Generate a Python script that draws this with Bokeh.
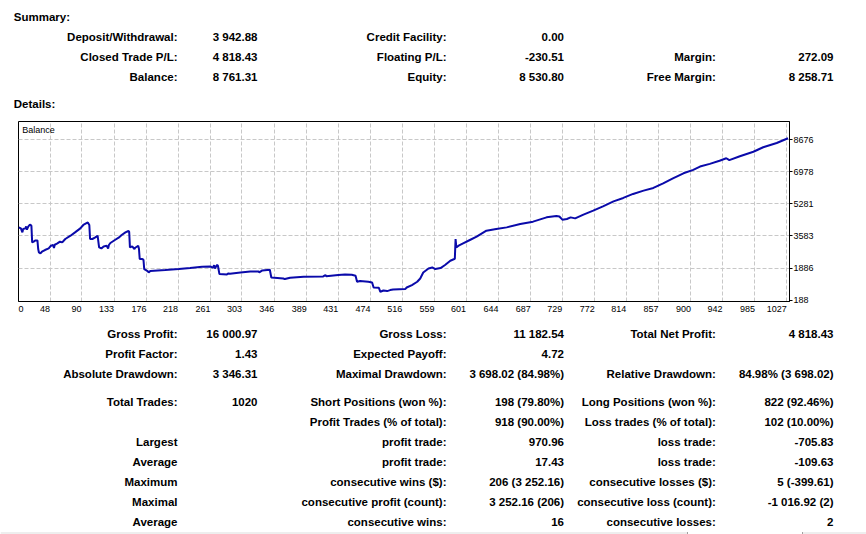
from bokeh.plotting import figure
from bokeh.models import Range1d, FixedTicker, ColumnDataSource
from bokeh.layouts import column
from bokeh.core.properties import value
from bokeh.embed import file_html
from bokeh.resources import INLINE

# ---------------- data ----------------
summary_labels_1 = ["Deposit/Withdrawal:", "Closed Trade P/L:", "Balance:"]
summary_values_1 = ["3 942.88", "4 818.43", "8 761.31"]
summary_labels_2 = ["Credit Facility:", "Floating P/L:", "Equity:"]
summary_values_2 = ["0.00", "-230.51", "8 530.80"]
summary_labels_3 = ["", "Margin:", "Free Margin:"]
summary_values_3 = ["", "272.09", "8 258.71"]

detail_labels_1 = ["Gross Profit:", "Profit Factor:", "Absolute Drawdown:", "Total Trades:", "",
                   "Largest", "Average", "Maximum", "Maximal", "Average"]
detail_values_1 = ["16 000.97", "1.43", "3 346.31", "1020", "", "", "", "", "", ""]
detail_labels_2 = ["Gross Loss:", "Expected Payoff:", "Maximal Drawdown:", "Short Positions (won %):",
                   "Profit Trades (% of total):", "profit trade:", "profit trade:",
                   "consecutive wins ($):", "consecutive profit (count):", "consecutive wins:"]
detail_values_2 = ["11 182.54", "4.72", "3 698.02 (84.98%)", "198 (79.80%)", "918 (90.00%)",
                   "970.96", "17.43", "206 (3 252.16)", "3 252.16 (206)", "16"]
detail_labels_3 = ["Total Net Profit:", "", "Relative Drawdown:", "Long Positions (won %):",
                   "Loss trades (% of total):", "loss trade:", "loss trade:",
                   "consecutive losses ($):", "consecutive loss (count):", "consecutive losses:"]
detail_values_3 = ["4 818.43", "", "84.98% (3 698.02)", "822 (92.46%)", "102 (10.00%)",
                   "-705.83", "-109.63", "5 (-399.61)", "-1 016.92 (2)", "2"]

x_tick_labels = [0, 48, 90, 133, 176, 218, 261, 303, 346, 389, 431, 474, 516, 559,
                 601, 644, 687, 729, 772, 814, 857, 900, 942, 985, 1027]
y_tick_labels = [188, 1886, 3583, 5281, 6978, 8676]

trade = [6, 9, 11, 12, 15, 16, 17, 19, 21, 23,
         24, 26, 28, 31, 32, 33, 35, 37, 41, 46,
         49, 52, 53, 54, 57, 61, 64, 68, 75, 81,
         88, 92, 98, 100, 101, 104, 108, 111, 113, 116,
         119, 123, 125, 126, 128, 134, 139, 143, 148, 152,
         153, 154, 157, 160, 161, 165, 166, 167, 170, 172,
         173, 177, 179, 181, 201, 219, 234, 250, 261, 264,
         266, 267, 270, 271, 273, 283, 285, 287, 301, 314,
         325, 326, 330, 340, 342, 358, 360, 367, 385, 411,
         414, 415, 431, 440, 449, 454, 456, 460, 471, 476,
         478, 485, 487, 491, 496, 500, 504, 520, 522, 529,
         536, 540, 544, 551, 556, 560, 567, 573, 580, 586,
         587, 588, 591, 597, 606, 615, 628, 641, 655, 673,
         690, 708, 721, 725, 729, 735, 740, 746, 757, 770,
         783, 797, 810, 823, 837, 850, 863, 876, 890, 903,
         912, 925, 938, 947, 951, 965, 983, 996, 1014, 1029]
balance = [4040, 3986, 3774, 3954, 3986, 4092, 3917, 4092, 4182, 4129,
           3243, 3281, 3350, 3350, 2893, 2713, 2660, 2750, 2840, 2925,
           3068, 3106, 2946, 3121, 3175, 3281, 3243, 3424, 3599, 3774,
           3986, 4167, 4304, 4167, 3424, 3424, 3509, 3599, 2978, 2925,
           3031, 3068, 2925, 3106, 3212, 3371, 3493, 3636, 3774, 3848,
           3811, 2978, 3031, 2893, 2962, 3068, 2909, 2363, 2363, 2326,
           1832, 1742, 1652, 1726, 1779, 1832, 1885, 1954, 1970, 1901,
           2034, 1864, 2060, 2007, 1567, 1546, 1599, 1583, 1652, 1705,
           1705, 1652, 1758, 1795, 1387, 1334, 1302, 1371, 1424, 1440,
           1514, 1450, 1514, 1546, 1530, 1477, 1159, 1196, 1159, 1121,
           856, 840, 628, 697, 665, 718, 750, 771, 856, 984,
           1159, 1334, 1652, 1864, 1917, 1832, 1885, 2045, 2273, 2379,
           3424, 2978, 3068, 3190, 3371, 3546, 3864, 3954, 4039, 4220,
           4342, 4570, 4644, 4617, 4448, 4485, 4570, 4517, 4713, 4925,
           5153, 5419, 5599, 5811, 5986, 6129, 6373, 6639, 6904, 7084,
           7259, 7403, 7567, 7700, 7604, 7806, 8044, 8283, 8506, 8761]

# ---------------- style / layout ----------------
FONT = "Liberation Sans"
FS = "11.5px"
W = 866
BL, BR = 18, 77          # chart side borders
FW = W - BL - BR         # 771 px chart frame width
HEAD_H = 113
CHART_TOP, FH, CHART_BOT = 8, 180, 20
FOOT_TOP = HEAD_H + CHART_TOP + FH + CHART_BOT   # 321
FOOT_H = 534 - FOOT_TOP


def text_fig(y_top, h):
    # full-width frame: x and y data coordinates equal page pixels
    p = figure(width=W, height=h, x_range=Range1d(0, W), y_range=Range1d(y_top + h, y_top),
               output_backend="svg", toolbar_location=None, min_border=0, frame_align=False)
    p.axis.visible = False
    p.grid.visible = False
    p.outline_line_color = None
    p.background_fill_color = "white"
    p.border_fill_color = "white"
    return p


def put(p, xs, ys, texts, align):
    src = ColumnDataSource(dict(x=xs, y=ys, t=texts))
    p.text(x="x", y="y", text="t", source=src, text_align=align, text_baseline="middle",
           text_font=value(FONT), text_font_style="bold", text_font_size=FS, text_color="black")


# header
head = text_fig(0, HEAD_H)
put(head, [13.3, 13.3], [16, 103], ["Summary:", "Details:"], "left")
hrows = [36, 56, 76]
put(head, [177] * 3, hrows, summary_labels_1, "right")
put(head, [257] * 3, hrows, summary_values_1, "right")
put(head, [446] * 3, hrows, summary_labels_2, "right")
put(head, [563.5] * 3, hrows, summary_values_2, "right")
put(head, [715.3] * 3, hrows, summary_labels_3, "right")
put(head, [833] * 3, hrows, summary_values_3, "right")

# chart
X0, X1 = 5.83, 1031.0
Y0, Y1 = 113.7, 9647.0
xpp = (X1 - X0) / FW   # data units per pixel
ypp = (Y1 - Y0) / FH

chart = figure(width=W, height=CHART_TOP + FH + CHART_BOT,
               x_range=Range1d(X0, X1), y_range=Range1d(Y0, Y1),
               y_axis_location="right", output_backend="svg", toolbar_location=None,
               min_border_left=BL, min_border_right=BR, min_border_top=CHART_TOP,
               min_border_bottom=CHART_BOT, frame_align=False)
chart.background_fill_color = "white"
chart.border_fill_color = "white"
chart.outline_line_color = "black"
chart.outline_line_width = 1

chart.line(trade, balance, line_color="#0A0AAA", line_width=2)

# tick labels sit right-aligned against the grid lines in the original
digit_w = 5.0
x_tick_pos = []
overrides = {}
for lab in x_tick_labels:
    if lab == 0:
        pos = int(round(X0 + 2.7 * xpp))
    else:
        pos = int(round(lab - len(str(lab)) * digit_w / 2 * xpp))
    x_tick_pos.append(pos)
    overrides[pos] = str(lab)

chart.xaxis.ticker = FixedTicker(ticks=x_tick_pos)
chart.xaxis.major_label_overrides = overrides
chart.xaxis.major_tick_out = 0
chart.xaxis.major_tick_in = 0
chart.xgrid.ticker = FixedTicker(ticks=x_tick_labels[1:])

chart.yaxis.ticker = FixedTicker(ticks=y_tick_labels)
chart.yaxis.major_tick_out = 3
chart.yaxis.major_tick_in = 0
chart.ygrid.ticker = FixedTicker(ticks=y_tick_labels[1:])

chart.axis.minor_tick_line_color = None
chart.axis.axis_line_color = "black"
chart.axis.major_tick_line_color = "black"
chart.xaxis.major_tick_line_color = None
chart.axis.major_label_text_font = FONT
chart.axis.major_label_text_font_size = "9px"
chart.axis.major_label_text_color = "black"
chart.xaxis.major_label_standoff = 4
chart.yaxis.major_label_standoff = 1

chart.grid.grid_line_color = "#C8C8C8"
chart.grid.grid_line_dash = "4 2"
chart.grid.grid_line_width = 1

chart.text(x=[X0 + 3.7 * xpp], y=[Y1 - 8.5 * ypp], text=["Balance"], text_align="left",
           text_baseline="middle", text_font=value(FONT), text_font_size="9px", text_color="black")

# footer
foot = text_fig(FOOT_TOP, FOOT_H)
frows = [333.3, 353.3, 373.3, 401, 421, 441, 461, 481, 501, 521]
put(foot, [177] * 10, frows, detail_labels_1, "right")
put(foot, [257] * 10, frows, detail_values_1, "right")
put(foot, [446] * 10, frows, detail_labels_2, "right")
put(foot, [563.5] * 10, frows, detail_values_2, "right")
put(foot, [715.3] * 10, frows, detail_labels_3, "right")
put(foot, [833] * 10, frows, detail_values_3, "right")

# the edge of the window's tab strip peeking in at the very bottom
foot.quad(left=[0, 802], right=[687, W], bottom=[534, 534], top=[531.5, 531.5],
          fill_color="#EEEEEE", line_color=None)
foot.segment(x0=[687, 802], y0=[531.5, 531.5], x1=[687, 802], y1=[534, 534],
             line_color="#A0A0A0", line_width=1)

page = column(head, chart, foot, spacing=0)
open("out.html", "w").write(file_html(page, INLINE))
